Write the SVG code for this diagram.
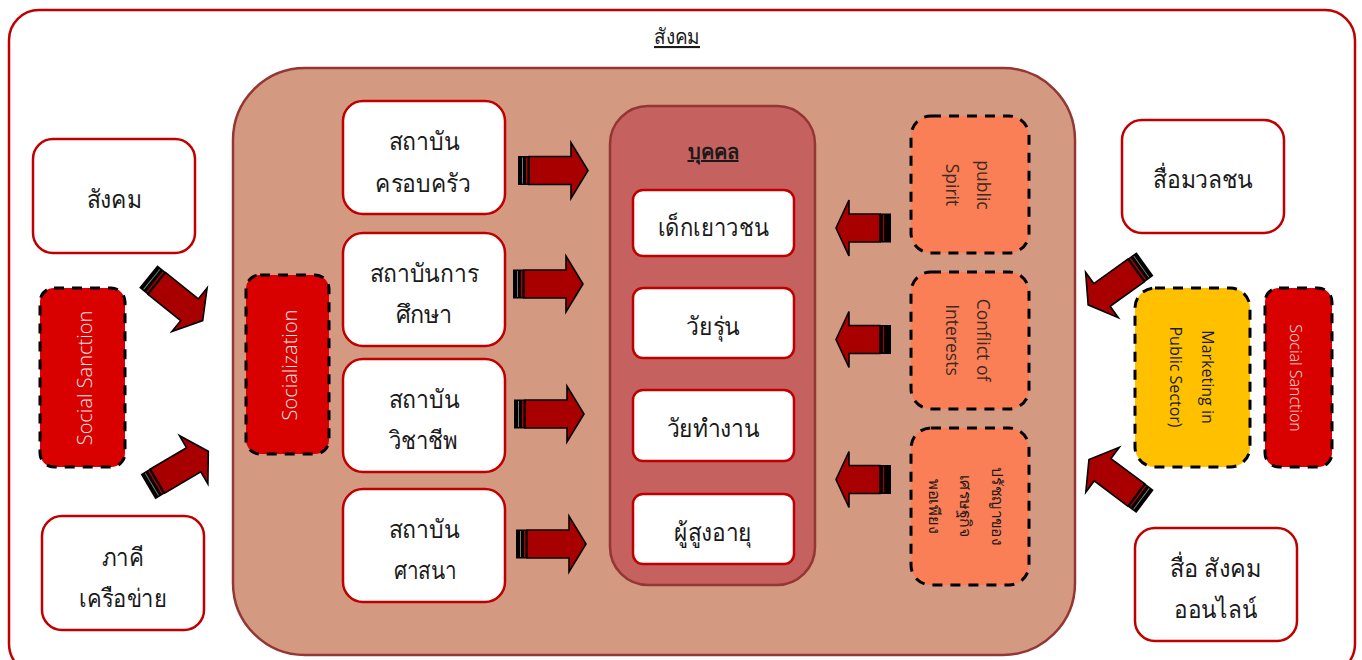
<svg xmlns="http://www.w3.org/2000/svg" width="1362" height="660" viewBox="0 0 1362 660">
<style>
text{font-family:"Noto Sans","Open Sans","DejaVu Sans",sans-serif;text-anchor:middle;fill:#1a1a1a;font-weight:300}
.w{fill:#fff;stroke:#c00000;stroke-width:2.5}
.d{stroke:#000;stroke-width:3;stroke-dasharray:10 8}
.big{font-size:25px}
.lat{font-family:"Open Sans","Noto Sans",sans-serif}
.s{font-size:15px}
.o{font-size:17.5px;font-weight:400;fill:#3a2a20}
.m{font-size:16px;font-weight:400}
.sw{font-size:20px;fill:#f4e4e4}
.ah{fill:#a80000;stroke:#000;stroke-width:1.6;stroke-linejoin:miter}
.bk{fill:#000}
</style>
<defs>
<g id="ar">
<rect class="bk" x="0" y="-14.5" width="11" height="29"/>
<rect x="4" y="-13" width="1" height="26" fill="#777"/>
<rect x="8" y="-13" width="1.5" height="26" fill="#a80000"/>
<path class="ah" d="M11-14H53V-28L70 0 53 28V14H11Z"/>
</g>
<g id="al">
<rect class="bk" x="44" y="-14.5" width="11" height="29"/>
<rect x="47" y="-13" width="1.2" height="26" fill="#a80000"/>
<path class="ah" d="M44-14H13V-28L0 0 13 28V14H44Z"/>
</g>
</defs>
<g id="society"><rect class="w" x="9" y="10" width="1346" height="664" rx="30"/>
<text x="677" y="44" font-size="21" textLength="46" lengthAdjust="spacingAndGlyphs" text-decoration="underline">สังคม</text></g>
<g id="core"><rect x="233" y="68" width="842" height="587" rx="72" fill="#d49a81" stroke="#943634" stroke-width="2.5"/></g>
<g id="person"><rect x="610" y="106" width="205" height="479" rx="38" fill="#c5615f" stroke="#943634" stroke-width="2.5"/>
<text x="713" y="159" font-size="20" style="font-weight:700" text-decoration="underline">บุคคล</text></g>
<g id="n-sangkhom"><rect class="w" x="33" y="139" width="162" height="114" rx="20"/><text class="big" x="114" y="208" textLength="55" lengthAdjust="spacingAndGlyphs">สังคม</text></g>
<g id="n-phakhi"><rect class="w" x="42" y="516" width="162" height="114" rx="20"/><text class="big" x="123" y="566" textLength="42" lengthAdjust="spacingAndGlyphs">ภาคี</text><text class="big" x="123" y="607" textLength="88" lengthAdjust="spacingAndGlyphs">เครือข่าย</text></g>
<g id="n-sanction-l"><rect class="d" x="40" y="288" width="85" height="179" rx="14" fill="#d90000"/><text class="lat sw" transform="translate(92 378) rotate(-90)">Social Sanction</text></g>
<g id="n-socialization"><rect class="d" x="246" y="275" width="83" height="179" rx="14" fill="#d90000"/><text class="lat sw" transform="translate(297 365) rotate(-90)">Socialization</text></g>
<g id="n-family"><rect class="w" x="343" y="101" width="162" height="113" rx="20"/><text class="big" x="424" y="150" textLength="71" lengthAdjust="spacingAndGlyphs">สถาบัน</text><text class="big" x="423" y="192" textLength="96" lengthAdjust="spacingAndGlyphs">ครอบครัว</text></g>
<g id="n-edu"><rect class="w" x="343" y="233" width="162" height="113" rx="20"/><text class="big" x="424" y="282" textLength="109" lengthAdjust="spacingAndGlyphs">สถาบันการ</text><text class="big" x="424" y="323" textLength="57" lengthAdjust="spacingAndGlyphs">ศึกษา</text></g>
<g id="n-voc"><rect class="w" x="343" y="359" width="162" height="113" rx="20"/><text class="big" x="424" y="408" textLength="71" lengthAdjust="spacingAndGlyphs">สถาบัน</text><text class="big" x="423" y="449" textLength="69" lengthAdjust="spacingAndGlyphs">วิชาชีพ</text></g>
<g id="n-rel"><rect class="w" x="343" y="489" width="162" height="113" rx="20"/><text class="big" x="424" y="538" textLength="71" lengthAdjust="spacingAndGlyphs">สถาบัน</text><text class="big" x="425" y="579" textLength="63" lengthAdjust="spacingAndGlyphs">ศาสนา</text></g>
<g id="n-youth"><rect class="w" x="633" y="190" width="161" height="66" rx="10"/><text class="big" x="713" y="236" textLength="111" lengthAdjust="spacingAndGlyphs">เด็กเยาวชน</text></g>
<g id="n-teen"><rect class="w" x="633" y="288" width="161" height="70" rx="10"/><text class="big" x="713" y="335" textLength="54" lengthAdjust="spacingAndGlyphs">วัยรุ่น</text></g>
<g id="n-work"><rect class="w" x="633" y="390" width="161" height="71" rx="10"/><text class="big" x="713" y="437" textLength="93" lengthAdjust="spacingAndGlyphs">วัยทำงาน</text></g>
<g id="n-elder"><rect class="w" x="633" y="494" width="161" height="70" rx="10"/><text class="big" x="713" y="541" textLength="78" lengthAdjust="spacingAndGlyphs">ผู้สูงอายุ</text></g>
<g id="n-public"><rect class="d" x="911" y="116" width="118" height="137" rx="20" fill="#fa7e56"/><text class="lat o" transform="translate(977 185) rotate(90)">public</text><text class="lat o" transform="translate(946 185) rotate(90)">Spirit</text></g>
<g id="n-conflict"><rect class="d" x="911" y="272" width="118" height="137" rx="20" fill="#fa7e56"/><text class="lat o" transform="translate(977 340) rotate(90)">Conflict of</text><text class="lat o" transform="translate(946 340) rotate(90)">Interests</text></g>
<g id="n-philosophy"><rect class="d" x="911" y="428" width="118" height="157" rx="20" fill="#fa7e56"/><text class="s" style="font-weight:400" transform="translate(992 506) rotate(90)" textLength="78" lengthAdjust="spacingAndGlyphs">ปรัชญาของ</text><text class="s" style="font-weight:400" transform="translate(960 506) rotate(90)" textLength="63" lengthAdjust="spacingAndGlyphs">เศรษฐกิจ</text><text class="s" style="font-weight:400" transform="translate(929 506) rotate(90)" textLength="55" lengthAdjust="spacingAndGlyphs">พอเพียง</text></g>
<g id="n-mass"><rect class="w" x="1122" y="120" width="162" height="113" rx="20"/><text class="big" x="1203" y="188" textLength="100" lengthAdjust="spacingAndGlyphs">สื่อมวลชน</text></g>
<g id="n-online"><rect class="w" x="1135" y="528" width="162" height="113" rx="20"/><text class="big" x="1215.500" y="577" textLength="91" lengthAdjust="spacingAndGlyphs">สื่อ สังคม</text><text class="big" x="1215.500" y="618" textLength="83" lengthAdjust="spacingAndGlyphs">ออนไลน์</text></g>
<g id="n-marketing"><rect class="d" x="1135" y="288" width="115" height="179" rx="20" fill="#ffc000"/><text class="lat m" transform="translate(1202 377) rotate(90)">Marketing in</text><text class="lat m" transform="translate(1170 377) rotate(90)">Public Sector)</text></g>
<g id="n-sanction-r"><rect class="d" x="1265" y="288" width="67" height="179" rx="14" fill="#d90000"/><text class="lat" style="fill:#f4e4e4;font-size:16px" transform="translate(1290 378) rotate(90)">Social Sanction</text></g>
<g id="connectors">
<use href="#ar" transform="translate(518 170.500)"/>
<use href="#ar" transform="translate(513 284)"/>
<use href="#ar" transform="translate(514 414)"/>
<use href="#ar" transform="translate(516 544)"/>
<use href="#al" transform="translate(836 228)"/>
<use href="#al" transform="translate(836 339.500)"/>
<use href="#al" transform="translate(836 479.500)"/>
<use href="#ar" transform="translate(148.300 276.500) rotate(39)"/>
<use href="#ar" transform="translate(148 486.700) rotate(-30.500)"/>
<use href="#ar" transform="translate(1145 264) rotate(144.300)"/>
<use href="#ar" transform="translate(1145 501.500) rotate(216.800)"/>
</g>
</svg>
